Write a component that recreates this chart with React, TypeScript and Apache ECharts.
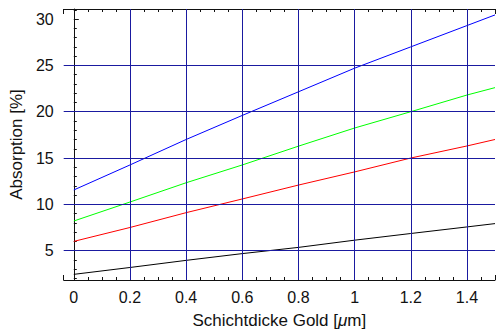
import React, { useEffect, useRef } from "react";
import * as echarts from "echarts";

const xs = [0, 0.2, 0.4, 0.6, 0.8, 1.0, 1.2, 1.4, 1.5];
const blueVals = [11.55, 14.25, 17.0, 19.6, 22.15, 24.7, 27.0, 29.3, 30.45];
const greenVals = [8.2, 10.25, 12.33, 14.25, 16.28, 18.24, 20.0, 21.8, 22.6];
const redVals = [6.0, 7.5, 9.1, 10.58, 12.08, 13.5, 15.0, 16.3, 17.0];
const blackVals = [2.44, 3.18, 3.95, 4.68, 5.35, 6.13, 6.85, 7.56, 7.92];

const gridX = [0.2, 0.4, 0.6, 0.8, 1.0, 1.2, 1.4];
const gridY = [5, 10, 15, 20, 25];

const X_MIN = -0.036;
const X_MAX = 1.5;
const Y_MIN = 1.83;
const Y_MAX = 31.09;

const FONT = "Liberation Sans, Arial, sans-serif";
const GRID_COLOR = "#1a1aa0";

function pairs(vals: number[]) {
  return xs.map((x, i) => [x, vals[i]]);
}

function isMult(v: number, step: number) {
  const r = v / step;
  return Math.abs(r - Math.round(r)) < 1e-6;
}

export default function App() {
  const ref = useRef<HTMLDivElement>(null);
  useEffect(() => {
    document.body.style.margin = "0";
    const chart = echarts.init(ref.current!, null, { renderer: "svg" });
    const axisLineStyle = { color: "#111", width: 1 };
    const tickStyle = { color: "#111", width: 1 };
    const lineSeries = (name: string, vals: number[], color: string) => ({
      name,
      type: "line",
      data: pairs(vals),
      showSymbol: false,
      symbol: "none",
      color,
      lineStyle: { color, width: 1 },
      z: 3,
      silent: true,
    });
    const gridStyle = { color: GRID_COLOR, width: 1, type: "solid", opacity: 1 };
    chart.setOption({
      animation: false,
      grid: { left: 63, top: 9, right: 0, bottom: 51, containLabel: false },
      xAxis: [
        {
          type: "value",
          min: X_MIN,
          max: X_MAX,
          splitNumber: 8,
          position: "bottom",
          axisLine: { show: true, lineStyle: axisLineStyle },
          axisTick: { show: true, inside: true, length: 5, lineStyle: tickStyle },
          minorTick: { show: true, splitNumber: 4, length: 3, lineStyle: tickStyle },
          splitLine: { show: false },
          axisLabel: {
            show: true,
            margin: 9,
            fontFamily: FONT,
            fontSize: 16,
            color: "#111",
            formatter: (v: number) => (isMult(v, 0.2) && v >= -1e-9 && v < 1.45 ? String(Math.round(v * 10) / 10) : ""),
          },
          name: "{n|Schichtdicke Gold [}{i|μ}{n|m]}",
          nameLocation: "middle",
          nameGap: 32,
          nameTextStyle: {
            rich: {
              n: { fontFamily: FONT, fontSize: 17, color: "#111" },
              i: { fontFamily: FONT, fontSize: 17, fontStyle: "italic", color: "#111" },
            },
          },
        },
        {
          type: "value",
          min: X_MIN,
          max: X_MAX,
          splitNumber: 8,
          position: "top",
          axisLine: { show: true, lineStyle: axisLineStyle },
          axisTick: { show: true, inside: true, length: 5, lineStyle: tickStyle },
          minorTick: { show: true, splitNumber: 4, length: 3, lineStyle: tickStyle },
          splitLine: { show: false },
          axisLabel: { show: false },
        },
      ],
      yAxis: [
        {
          type: "value",
          min: Y_MIN,
          max: Y_MAX,
          splitNumber: 6,
          position: "left",
          axisLine: { show: true, lineStyle: axisLineStyle },
          axisTick: { show: true, inside: true, length: 5, lineStyle: tickStyle },
          minorTick: { show: true, splitNumber: 5, length: 3, lineStyle: tickStyle },
          splitLine: { show: false },
          axisLabel: {
            show: true,
            margin: 10,
            fontFamily: FONT,
            fontSize: 16,
            color: "#111",
            formatter: (v: number) => (isMult(v, 5) && v > 2 && v < 31 ? String(Math.round(v)) : ""),
          },
          name: "Absorption [%]",
          nameLocation: "middle",
          nameGap: 34,
          nameTextStyle: { fontFamily: FONT, fontSize: 17, color: "#111" },
        },
      ],
      series: [
        {
          name: "grid",
          type: "line",
          data: [],
          z: 1,
          silent: true,
          color: GRID_COLOR,
          markLine: {
            silent: true,
            symbol: "none",
            animation: false,
            label: { show: false },
            lineStyle: gridStyle,
            emphasis: { disabled: true },
            data: [
              ...gridX.map((v) => ({ xAxis: v, lineStyle: gridStyle })),
              ...gridY.map((v) => ({ yAxis: v, lineStyle: gridStyle })),
            ],
          },
        },
        lineSeries("black", blackVals, "#000000"),
        lineSeries("red", redVals, "#ff0000"),
        lineSeries("green", greenVals, "#00ff00"),
        lineSeries("blue", blueVals, "#0000ff"),
      ],
    });
    return () => chart.dispose();
  }, []);
  return (
    <div
      ref={ref}
      style={{ position: "absolute", left: 0, top: 0, width: 498, height: 334, background: "#fff" }}
    />
  );
}
